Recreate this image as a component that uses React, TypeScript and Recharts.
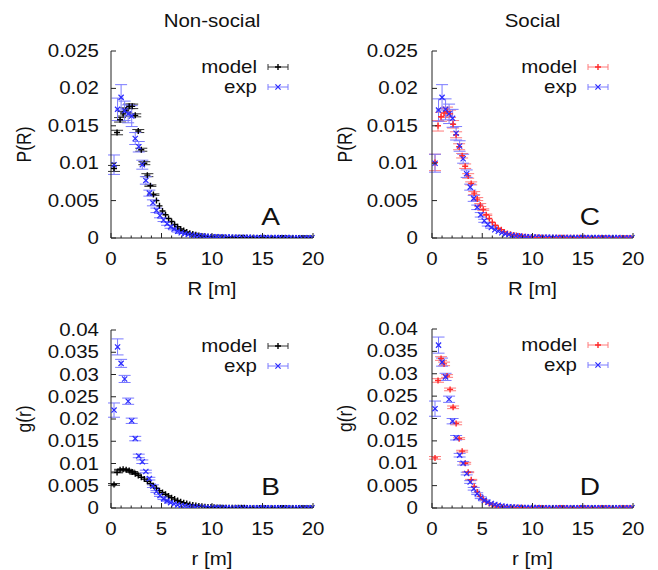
import React from 'react';
import { ScatterChart, Scatter, XAxis, YAxis, ErrorBar, Customized } from 'recharts';

// bin centres of the two histograms
const X_MODEL = [
  0.3, 0.6, 0.9, 1.2, 1.5, 1.8, 2.1, 2.4, 2.7, 3.0,
  3.3, 3.6, 3.9, 4.2, 4.5, 4.8, 5.1, 5.4, 5.7, 6.0,
  6.3, 6.6, 6.9, 7.2, 7.5, 7.8, 8.1, 8.4, 8.7, 9.0,
  9.3, 9.6, 9.9, 10.2, 10.5, 10.8, 11.1, 11.4, 11.7, 12.0,
  12.3, 12.6, 12.9, 13.2, 13.5, 13.8, 14.1, 14.4, 14.7, 15.0,
  15.3, 15.6, 15.9, 16.2, 16.5, 16.8, 17.1, 17.4, 17.7, 18.0,
  18.3, 18.6, 18.9, 19.2, 19.5, 19.8,
];
const X_EXP = [
  0.3, 0.65, 1.0, 1.35, 1.7, 2.05, 2.4, 2.75, 3.1, 3.45,
  3.8, 4.15, 4.5, 4.85, 5.2, 5.55, 5.9, 6.25, 6.6, 6.95,
  7.3, 7.65, 8.0, 8.35, 8.7, 9.05, 9.4, 9.75, 10.1, 10.45,
  10.8, 11.15, 11.5, 11.85, 12.2, 12.55, 12.9, 13.25, 13.6, 13.95,
  14.3, 14.65, 15.0, 15.35, 15.7, 16.05, 16.4, 16.75, 17.1, 17.45,
  17.8, 18.15, 18.5, 18.85, 19.2, 19.55, 19.9,
];

// A: P(R), non-social
const P_NS_MODEL = [
  0.0093, 0.0141, 0.0158, 0.0166, 0.0171, 0.0176, 0.0176, 0.0164, 0.0143, 0.0118,
  0.0100, 0.0084, 0.0070, 0.0058, 0.0050, 0.0043, 0.0036, 0.0031, 0.0026, 0.0022,
  0.0018, 0.0015, 0.0012, 0.0010, 0.0008, 0.00065, 0.00052, 0.00042, 0.00034, 0.00027,
  0.00022, 0.00018, 0.00014, 0.00011, 0.00009, 0.00007, 0.00006, 0.00005, 0.00004, 0.00003,
  0.00003, 0.00003, 0.00002, 0.00002, 0.00002, 0.00002, 0.00002, 0.00001, 0.00001, 0.00001,
  0.00001, 0.00001, 0.00001, 0.00001, 0.00001, 0.00001, 0.00001, 0.00001, 0.00001, 0.00001,
  0.00001, 0.00001, 0.00001, 0.00001, 0.00001, 0.00001,
];
const P_NS_MODEL_ERR = [0.0004, 0.0003, 0.0003, 0.0003, 0.0003, 0.0003, 0.0003, 0.0002, 0.0002, 0.0002, 0.0002, 0.0002, 0.0001, 0.0001];
const P_NS_EXP = [
  0.0098, 0.0172, 0.0188, 0.0170, 0.0166, 0.0163, 0.0133, 0.0122, 0.0098, 0.0077,
  0.0060, 0.0047, 0.0037, 0.0030, 0.0024, 0.0019, 0.0015, 0.0012, 0.0009, 0.0007,
  0.00058, 0.00048, 0.0004, 0.00034, 0.0003, 0.00026, 0.00023, 0.0002, 0.00018, 0.00016,
  0.00015, 0.00014, 0.00013, 0.00012, 0.00011, 0.0001, 0.0001, 0.00009, 0.00009, 0.00008,
  0.00008, 0.00007, 0.00007, 0.00007, 0.00006, 0.00006, 0.00006, 0.00005, 0.00005, 0.00005,
  0.00005, 0.00004, 0.00004, 0.00004, 0.00004, 0.00004, 0.00004,
];
const P_NS_EXP_ERR = [0.0013, 0.0015, 0.0017, 0.0013, 0.0012, 0.0014, 0.0008, 0.0007, 0.0006, 0.0005, 0.0004, 0.0004, 0.0003, 0.0003, 0.0002, 0.0002, 0.0002, 0.0001, 0.0001, 0.0001];

// B: g(r), non-social
const G_NS_MODEL = [
  0.0053, 0.0080, 0.0086, 0.0087, 0.0086, 0.0084, 0.0081, 0.0077, 0.0073, 0.0069,
  0.0065, 0.0060, 0.0055, 0.0050, 0.0044, 0.0039, 0.0035, 0.0031, 0.0027, 0.0023,
  0.0020, 0.0017, 0.0014, 0.0012, 0.0010, 0.0008, 0.00065, 0.00055, 0.00045, 0.00037,
  0.0003, 0.00024, 0.0002, 0.00016, 0.00013, 0.0001, 0.00008, 0.00006, 0.00005, 0.00004,
  0.00003, 0.00003, 0.00003, 0.00003, 0.00002, 0.00002, 0.00002, 0.00002, 0.00002, 0.00002,
  0.00002, 0.00002, 0.00001, 0.00001, 0.00001, 0.00001, 0.00001, 0.00001, 0.00001, 0.00001,
  0.00001, 0.00001, 0.00001, 0.00001, 0.00001, 0.00001,
];
const G_NS_MODEL_ERR = [0.0002, 0.0001, 0.0001, 0.0001, 0.0001, 0.0001, 0.0001, 0.0001];
const G_NS_EXP = [
  0.0220, 0.0362, 0.0325, 0.0290, 0.0240, 0.0196, 0.0156, 0.0117, 0.0104, 0.0082,
  0.0066, 0.0049, 0.0037, 0.0028, 0.0021, 0.0016, 0.0012, 0.0009, 0.0007, 0.00055,
  0.00043, 0.00035, 0.00028, 0.00023, 0.00019, 0.00016, 0.00013, 0.00011, 0.0001, 0.00009,
  0.00008, 0.00008, 0.00007, 0.00007, 0.00006, 0.00006, 0.00006, 0.00005, 0.00005, 0.00005,
  0.00005, 0.00004, 0.00004, 0.00004, 0.00004, 0.00004, 0.00004, 0.00004, 0.00004, 0.00004,
  0.00004, 0.00004, 0.00004, 0.00004, 0.00004, 0.00004, 0.00004,
];
const G_NS_EXP_ERR = [0.0016, 0.0018, 0.0009, 0.0008, 0.0007, 0.0006, 0.0005, 0.0004, 0.0004, 0.0003, 0.0003, 0.0003, 0.0002, 0.0002, 0.0002, 0.0001, 0.0001];

// C: P(R), social
const P_S_MODEL = [
  0.0101, 0.0150, 0.0162, 0.0167, 0.0169, 0.0166, 0.0152, 0.0138, 0.0122, 0.0110,
  0.0096, 0.0083, 0.0073, 0.0060, 0.0052, 0.0044, 0.0038, 0.0031, 0.0026, 0.0021,
  0.0017, 0.0013, 0.0011, 0.0008, 0.0006, 0.0005, 0.0004, 0.00032, 0.00026, 0.0002,
  0.00016, 0.00013, 0.0001, 0.00008, 0.00006, 0.00005, 0.00004, 0.00003, 0.00003, 0.00002,
  0.00002, 0.00002, 0.00002, 0.00002, 0.00002, 0.00002, 0.00002, 0.00002, 0.00002, 0.00002,
  0.00001, 0.00001, 0.00001, 0.00001, 0.00001, 0.00001, 0.00001, 0.00001, 0.00001, 0.00001,
  0.00001, 0.00001, 0.00001, 0.00001, 0.00001, 0.00001,
];
const P_S_MODEL_ERR = [0.0011, 0.0007, 0.0006, 0.0006, 0.0006, 0.0005, 0.0005, 0.0004, 0.0004, 0.0003, 0.0003, 0.0003, 0.0002, 0.0002, 0.0002, 0.0002, 0.0001, 0.0001];
const P_S_EXP = [
  0.0100, 0.0171, 0.0188, 0.0172, 0.0166, 0.0160, 0.0140, 0.0123, 0.0106, 0.0086,
  0.0068, 0.0053, 0.0041, 0.0031, 0.0023, 0.0018, 0.0014, 0.0011, 0.0009, 0.0007,
  0.00055, 0.00045, 0.00037, 0.0003, 0.00025, 0.00021, 0.00018, 0.00015, 0.00013, 0.00012,
  0.00011, 0.0001, 0.0001, 0.00009, 0.00009, 0.00008, 0.00008, 0.00007, 0.00007, 0.00006,
  0.00006, 0.00006, 0.00005, 0.00005, 0.00005, 0.00005, 0.00005, 0.00005, 0.00005, 0.00005,
  0.00005, 0.00005, 0.00005, 0.00004, 0.00004, 0.00004, 0.00004,
];
const P_S_EXP_ERR = [0.0012, 0.0015, 0.0017, 0.0014, 0.0013, 0.0012, 0.0009, 0.0007, 0.0006, 0.0005, 0.0004, 0.0004, 0.0003, 0.0003, 0.0002, 0.0002, 0.0001];

// D: g(r), social
const G_S_MODEL = [
  0.0112, 0.0285, 0.0334, 0.0322, 0.0295, 0.0265, 0.0225, 0.0189, 0.0155, 0.0127,
  0.0100, 0.0080, 0.0063, 0.0048, 0.0036, 0.0026, 0.0019, 0.0014, 0.0010, 0.0007,
  0.0005, 0.00035, 0.00025, 0.00018, 0.00013, 0.0001, 0.00007, 0.00005, 0.00004, 0.00003,
  0.00002, 0.00002, 0.00002, 0.00002, 0.00002, 0.00002, 0.00002, 0.00002, 0.00002, 0.00002,
  0.00001, 0.00001, 0.00001, 0.00001, 0.00001, 0.00001, 0.00001, 0.00001, 0.00001, 0.00001,
  0.00001, 0.00001, 0.00001, 0.00001, 0.00001, 0.00001, 0.00001, 0.00001, 0.00001, 0.00001,
  0.00001, 0.00001, 0.00001, 0.00001, 0.00001, 0.00001,
];
const G_S_MODEL_ERR = [0.0003, 0.0004, 0.0004, 0.0004, 0.0003, 0.0003, 0.0003, 0.0003, 0.0002, 0.0002, 0.0002, 0.0001, 0.0001];
const G_S_EXP = [
  0.0222, 0.0364, 0.0326, 0.0293, 0.0243, 0.0194, 0.0157, 0.0118, 0.0100, 0.0077,
  0.0058, 0.0043, 0.0032, 0.0023, 0.0017, 0.0013, 0.0010, 0.0008, 0.0006, 0.00045,
  0.00035, 0.00028, 0.00022, 0.00018, 0.00015, 0.00012, 0.0001, 0.00009, 0.00008, 0.00008,
  0.00007, 0.00007, 0.00007, 0.00007, 0.00006, 0.00006, 0.00006, 0.00006, 0.00006, 0.00006,
  0.00006, 0.00006, 0.00005, 0.00005, 0.00005, 0.00005, 0.00005, 0.00005, 0.00005, 0.00005,
  0.00005, 0.00005, 0.00005, 0.00005, 0.00005, 0.00005, 0.00005,
];
const G_S_EXP_ERR = [0.0017, 0.0018, 0.0009, 0.0008, 0.0007, 0.0006, 0.0005, 0.0004, 0.0004, 0.0003, 0.0003, 0.0003, 0.0002, 0.0002, 0.0001];

const X_TICKS = [0, 1, 2, 3, 4, 5, 6, 7, 8, 9, 10, 11, 12, 13, 14, 15, 16, 17, 18, 19, 20];
const P_TICKS = [0, 0.005, 0.01, 0.015, 0.02, 0.025];
const G_TICKS = [0, 0.005, 0.01, 0.015, 0.02, 0.025, 0.03, 0.035, 0.04];

const W = 658;
const H = 570;
const FONT = '"Liberation Sans", Arial, Helvetica, sans-serif';
const FS = 17.5;
const STRETCH = 1.17; // the original figure is a bit wider than tall
const INK = '#111';
const AXIS = '#222';
const BLUE = '#2b2bff';
const BLUE_BAR = '#7a7aff';

type Box = { left: number; top: number; right: number; bottom: number };

const toPoints = (xs: number[], ys: number[], errs: number[]) =>
  xs.map((x, i) => ({ x, y: ys[i], err: errs[i] ?? 0 }));

function StretchText({ x, y, anchor, size = FS, rotate = false, children }: any) {
  const t = `translate(${x},${y}) scale(${STRETCH},1)${rotate ? ' rotate(-90)' : ''}`;
  return (
    <text transform={t} textAnchor={anchor} fontFamily={FONT} fontSize={size} fill={INK}>
      {children}
    </text>
  );
}

function PlusMark({ cx, cy, color }: any) {
  if (cx == null || cy == null) return null;
  const s = 3;
  return <path d={`M${cx - s},${cy}H${cx + s}M${cx},${cy - s}V${cy + s}`} stroke={color} strokeWidth={1.4} fill="none" />;
}

function CrossMark({ cx, cy, color }: any) {
  if (cx == null || cy == null) return null;
  const s = 2.6;
  return (
    <path
      d={`M${cx - s},${cy - s}L${cx + s},${cy + s}M${cx - s},${cy + s}L${cx + s},${cy - s}`}
      stroke={color}
      strokeWidth={1.2}
      fill="none"
    />
  );
}

function LegendRow({ box, dy, label, color, barColor, Mark }: any) {
  const r = box.right;
  const y = box.top + dy;
  return (
    <g>
      <StretchText x={r - 56} y={y + 5.5} anchor="end">{label}</StretchText>
      <g stroke={barColor} strokeWidth={1}>
        <line x1={r - 45} x2={r - 25} y1={y} y2={y} />
        <line x1={r - 45} x2={r - 45} y1={y - 3} y2={y + 3} />
        <line x1={r - 25} x2={r - 25} y1={y - 3} y2={y + 3} />
      </g>
      <Mark cx={r - 35} cy={y} color={color} />
    </g>
  );
}

function Decor({ box, title, xLabel, yLabel, letter, modelColor, modelBar }: any) {
  const cx = (box.left + box.right) / 2;
  const cy = (box.top + box.bottom) / 2;
  return (
    <g>
      {title && <StretchText x={cx} y={27} anchor="middle">{title}</StretchText>}
      <StretchText x={cx} y={box.bottom + 57} anchor="middle">{xLabel}</StretchText>
      <StretchText x={box.left - 80} y={cy} anchor="middle" rotate>{yLabel}</StretchText>
      <StretchText x={box.right - 33} y={box.bottom - 13} anchor="end" size={24}>{letter}</StretchText>
      <LegendRow box={box} dy={16} label="model" color={modelColor} barColor={modelBar} Mark={PlusMark} />
      <LegendRow box={box} dy={36} label="exp" color={BLUE} barColor={BLUE_BAR} Mark={CrossMark} />
    </g>
  );
}

function Panel({ box, yTicks, yMax, labelGap, model, exp, modelColor, modelBar, ...decor }: any) {
  const bottomTick = ({ x, y, payload }: any) => {
    const major = payload.value % 5 === 0;
    return (
      <g>
        <line x1={x} x2={x} y1={y} y2={y - (major ? 5 : 2.5)} stroke={AXIS} />
        {major && <StretchText x={x} y={y + 27} anchor="middle">{payload.value}</StretchText>}
      </g>
    );
  };
  const topTick = ({ x, y, payload }: any) => {
    const major = payload.value % 5 === 0;
    return <line x1={x} x2={x} y1={y} y2={y + (major ? 5 : 2.5)} stroke={AXIS} />;
  };
  const leftTick = ({ x, y, payload }: any) => (
    <g>
      <line x1={x} x2={x + 5} y1={y} y2={y} stroke={AXIS} />
      <StretchText x={x - labelGap} y={y + 6} anchor="end">{String(payload.value)}</StretchText>
    </g>
  );
  const rightTick = ({ x, y }: any) => <line x1={x} x2={x - 5} y1={y} y2={y} stroke={AXIS} />;

  return (
    <div style={{ position: 'absolute', left: 0, top: 0 }}>
      <ScatterChart
        width={W}
        height={H}
        margin={{ top: box.top, left: box.left - 60, right: W - box.right, bottom: H - box.bottom - 30 }}
      >
        <XAxis xAxisId="b" type="number" dataKey="x" domain={[0, 20]} ticks={X_TICKS} interval={0}
          height={30} tickSize={0} tickMargin={0} tickLine={false} axisLine={{ stroke: AXIS }} tick={bottomTick} />
        <XAxis xAxisId="t" orientation="top" type="number" dataKey="x" domain={[0, 20]} ticks={X_TICKS} interval={0}
          height={0} tickSize={0} tickMargin={0} tickLine={false} axisLine={{ stroke: AXIS }} tick={topTick} />
        <YAxis yAxisId="l" type="number" dataKey="y" domain={[0, yMax]} ticks={yTicks} interval={0} allowDataOverflow
          width={60} tickSize={0} tickMargin={0} tickLine={false} axisLine={{ stroke: AXIS }} tick={leftTick} />
        <YAxis yAxisId="r" orientation="right" type="number" dataKey="y" domain={[0, yMax]} ticks={yTicks} interval={0}
          allowDataOverflow width={0} tickSize={0} tickMargin={0} tickLine={false} axisLine={{ stroke: AXIS }} tick={rightTick} />
        <Scatter xAxisId="b" yAxisId="l" data={model} isAnimationActive={false}
          shape={(p: any) => <PlusMark cx={p.cx} cy={p.cy} color={modelColor} />}>
          <ErrorBar dataKey="err" direction="y" width={6} stroke={modelBar} strokeWidth={1} isAnimationActive={false} />
        </Scatter>
        <Scatter xAxisId="b" yAxisId="l" data={exp} isAnimationActive={false}
          shape={(p: any) => <CrossMark cx={p.cx} cy={p.cy} color={BLUE} />}>
          <ErrorBar dataKey="err" direction="y" width={6} stroke={BLUE_BAR} strokeWidth={1} isAnimationActive={false} />
        </Scatter>
        <Customized component={<Decor box={box} modelColor={modelColor} modelBar={modelBar} {...decor} />} />
      </ScatterChart>
    </div>
  );
}

export default function App() {
  const boxA: Box = { left: 111, top: 51, right: 313, bottom: 238 };
  const boxB: Box = { left: 111, top: 330, right: 313, bottom: 508 };
  const boxC: Box = { left: 432, top: 51, right: 633, bottom: 238 };
  const boxD: Box = { left: 432, top: 329, right: 633, bottom: 508 };
  return (
    <div style={{ position: 'absolute', left: 0, top: 0, width: W, height: H, background: '#fff' }}>
      <Panel box={boxA} yTicks={P_TICKS} yMax={0.025} labelGap={12}
        model={toPoints(X_MODEL, P_NS_MODEL, P_NS_MODEL_ERR)} exp={toPoints(X_EXP, P_NS_EXP, P_NS_EXP_ERR)}
        modelColor="#000" modelBar="#333" title="Non-social" xLabel="R [m]" yLabel="P(R)" letter="A" />
      <Panel box={boxB} yTicks={G_TICKS} yMax={0.04} labelGap={12}
        model={toPoints(X_MODEL, G_NS_MODEL, G_NS_MODEL_ERR)} exp={toPoints(X_EXP, G_NS_EXP, G_NS_EXP_ERR)}
        modelColor="#000" modelBar="#333" xLabel="r [m]" yLabel="g(r)" letter="B" />
      <Panel box={boxC} yTicks={P_TICKS} yMax={0.025} labelGap={14}
        model={toPoints(X_MODEL, P_S_MODEL, P_S_MODEL_ERR)} exp={toPoints(X_EXP, P_S_EXP, P_S_EXP_ERR)}
        modelColor="#ff2a2a" modelBar="#ff7a7a" title="Social" xLabel="R [m]" yLabel="P(R)" letter="C" />
      <Panel box={boxD} yTicks={G_TICKS} yMax={0.04} labelGap={14}
        model={toPoints(X_MODEL, G_S_MODEL, G_S_MODEL_ERR)} exp={toPoints(X_EXP, G_S_EXP, G_S_EXP_ERR)}
        modelColor="#ff2a2a" modelBar="#ff7a7a" xLabel="r [m]" yLabel="g(r)" letter="D" />
    </div>
  );
}
